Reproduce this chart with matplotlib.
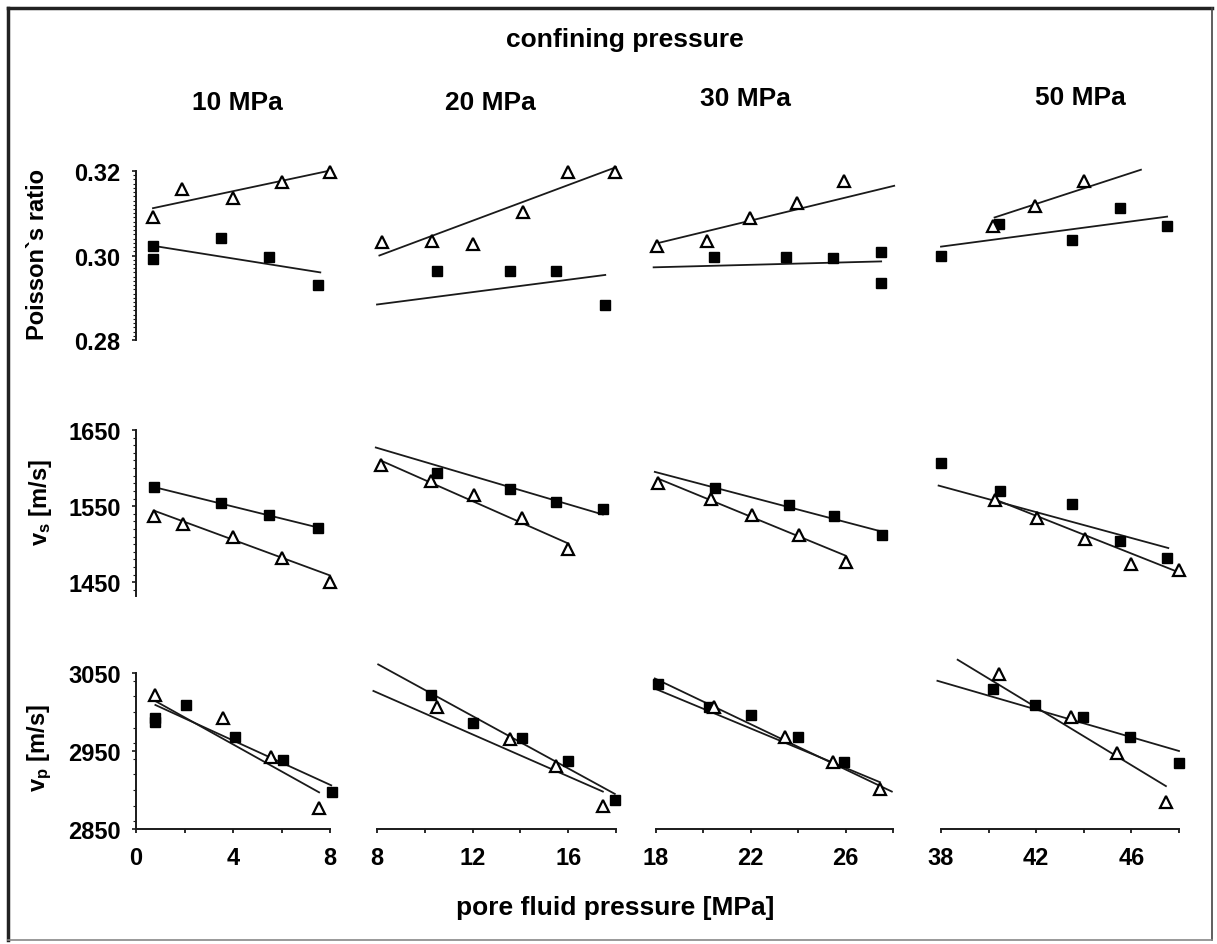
import matplotlib
matplotlib.use('Agg')
import matplotlib.pyplot as plt
from matplotlib.lines import Line2D
from matplotlib.ticker import MultipleLocator

plt.rcParams['font.family'] = ['Liberation Sans', 'DejaVu Sans']
plt.rcParams['font.weight'] = 'bold'

W, H = 1217, 945

# ---- data ----
col_titles = ['10 MPa', '20 MPa', '30 MPa', '50 MPa']
xlims = [(0, 8), (8, 18), (18, 28), (38, 48)]
xticks_major = [[0, 4, 8], [8, 12, 16], [18, 22, 26], [38, 42, 46]]

row_labels = ['Poisson`s ratio', r'$\mathregular{v_s}$ [m/s]', r'$\mathregular{v_p}$ [m/s]']
ylims = [(0.28, 0.32), (1432, 1650), (2850, 3050)]
yticks_major = [[0.28, 0.30, 0.32], [1450, 1550, 1650], [2850, 2950, 3050]]
ytick_fmt = ['{:.2f}', '{:.0f}', '{:.0f}']
yminor = [0.001, 10, 20]

# Poisson's ratio
pr_sq_x = [[0.7, 0.7, 3.5, 5.5, 7.5], [10.5, 13.55, 15.5, 17.55],
           [20.45, 23.5, 25.45, 27.5, 27.5], [38.0, 40.45, 43.5, 45.5, 47.5]]
pr_sq_y = [[0.3023, 0.2992, 0.3041, 0.2997, 0.2931], [0.2964, 0.2964, 0.2964, 0.2882],
           [0.2996, 0.2996, 0.2993, 0.3008, 0.2935], [0.2998, 0.3074, 0.3037, 0.3112, 0.3071]]
pr_tri_x = [[0.7, 1.9, 4.0, 6.0, 8.0], [8.2, 10.3, 12.0, 14.1, 16.0, 17.95],
            [18.05, 20.15, 21.95, 23.95, 25.95], [40.2, 41.95, 44.0]]
pr_tri_y = [[0.309, 0.3157, 0.3135, 0.3175, 0.3198], [0.3031, 0.3034, 0.3027, 0.3102, 0.3197, 0.3197],
            [0.3023, 0.3034, 0.3088, 0.3124, 0.3177], [0.3071, 0.3117, 0.3177]]
pr_sq_fit = [[(0.7, 7.6), (0.3023, 0.2960)], [(8.0, 17.55), (0.2884, 0.2954)],
             [(17.9, 27.5), (0.2972, 0.2986)], [(38.0, 47.5), (0.3021, 0.3092)]]
pr_tri_fit = [[(0.7, 8.0), (0.3112, 0.3201)], [(8.1, 18.0), (0.300, 0.3209)],
              [(18.05, 28.05), (0.3029, 0.3165)], [(40.25, 46.4), (0.309, 0.3203)]]

# S-wave velocity
vs_sq_x = [[0.75, 3.5, 5.5, 7.5], [10.5, 13.55, 15.5, 17.45],
           [20.5, 23.6, 25.5, 27.55], [38.0, 40.5, 43.5, 45.5, 47.5]]
vs_sq_y = [[1575, 1554, 1539, 1521], [1594, 1572, 1555, 1546],
           [1574, 1552, 1537, 1512], [1607, 1570, 1553, 1504, 1482]]
vs_tri_x = [[0.75, 1.95, 4.0, 6.0, 8.0], [8.15, 10.25, 12.05, 14.05, 16.0],
            [18.1, 20.3, 22.05, 24.05, 26.0], [40.25, 42.05, 44.05, 46.0, 48.0]]
vs_tri_y = [[1537, 1526, 1509, 1482, 1450], [1604, 1583, 1565, 1535, 1494],
            [1580, 1560, 1539, 1512, 1476], [1558, 1534, 1507, 1474, 1466]]
vs_sq_fit = [[(0.75, 7.5), (1575, 1522)], [(7.95, 17.45), (1627, 1539)],
             [(17.95, 27.6), (1595, 1516)], [(37.9, 47.55), (1577, 1495)]]
vs_tri_fit = [[(0.75, 8.0), (1544, 1459)], [(8.15, 16.0), (1610, 1501)],
              [(18.1, 26.0), (1586, 1485)], [(40.25, 48.0), (1559, 1463)]]

# P-wave velocity
vp_sq_x = [[0.8, 0.8, 2.05, 4.1, 6.05, 8.1], [10.25, 12.0, 14.05, 16.0, 17.95],
           [18.1, 20.25, 22.0, 24.0, 25.95], [40.2, 41.95, 43.95, 45.95, 48.0]]
vp_sq_y = [[2992, 2987, 3009, 2968, 2938, 2897], [3022, 2986, 2967, 2937, 2887],
           [3036, 3007, 2996, 2968, 2936], [3030, 3009, 2993, 2968, 2934]]
vp_tri_x = [[0.8, 3.6, 5.55, 7.55], [10.5, 13.55, 15.5, 17.45],
            [20.45, 23.45, 25.45, 27.45], [40.45, 43.45, 45.4, 47.45]]
vp_tri_y = [[3022, 2992, 2942, 2877], [3006, 2965, 2931, 2880],
            [3006, 2968, 2936, 2901], [3049, 2994, 2947, 2884]]
vp_sq_fit = [[(0.8, 8.05), (3009, 2906)], [(8.05, 17.95), (3061, 2895)],
             [(17.95, 27.95), (3043, 2898)], [(37.85, 48.0), (3040, 2950)]]
vp_tri_fit = [[(0.8, 7.55), (3014, 2897)], [(7.85, 17.45), (3027, 2898)],
              [(17.95, 27.45), (3030, 2910)], [(38.7, 47.45), (3067, 2905)]]

rows = [
    (pr_sq_x, pr_sq_y, pr_tri_x, pr_tri_y, pr_sq_fit, pr_tri_fit),
    (vs_sq_x, vs_sq_y, vs_tri_x, vs_tri_y, vs_sq_fit, vs_tri_fit),
    (vp_sq_x, vp_sq_y, vp_tri_x, vp_tri_y, vp_sq_fit, vp_tri_fit),
]

# ---- layout in pixels ----
col_px = [(136, 330), (377, 616), (656, 893), (941, 1179)]
row_px = [(172, 341), (431, 597), (674, 830)]
title_px = [(237, 103), (490, 103), (745, 99), (1080, 98)]
ylabel_px = [(38, 255), (41, 503), (40, 748)]

fig = plt.figure(figsize=(W / 100, H / 100), dpi=100)
ink = '#1a1a1a'

for r, (sqx, sqy, trx, tryy, sqf, trf) in enumerate(rows):
    top, bot = row_px[r]
    for c in range(4):
        l, rr = col_px[c]
        ax = fig.add_axes([l / W, 1 - bot / H, (rr - l) / W, (bot - top) / H])
        ax.set_xlim(*xlims[c])
        ax.set_ylim(*ylims[r])
        ax.patch.set_alpha(0)
        for s in ['top', 'right']:
            ax.spines[s].set_visible(False)
        ax.spines['left'].set_visible(c == 0)
        ax.spines['bottom'].set_visible(r == 2)
        for s in ['left', 'bottom']:
            ax.spines[s].set_linewidth(1.4)
            ax.spines[s].set_color(ink)

        ax.plot(sqf[c][0], sqf[c][1], color=ink, lw=1.3, clip_on=False)
        ax.plot(trf[c][0], trf[c][1], color=ink, lw=1.3, clip_on=False)
        ax.plot(sqx[c], sqy[c], ls='none', marker='s', ms=7.5, color='black',
                clip_on=False, zorder=3)
        ax.plot(trx[c], tryy[c], ls='none', marker='^', ms=9, mfc='white',
                mec='black', mew=1.6, clip_on=False, zorder=4)

        if r == 2:
            ax.set_xticks(xticks_major[c])
            ax.set_xticklabels([str(v) for v in xticks_major[c]], fontsize=17,
                               fontweight='bold')
            ax.xaxis.set_minor_locator(MultipleLocator(2))
            ax.tick_params(axis='x', which='both', direction='out', length=3,
                           width=1.3, color=ink, pad=9)
        else:
            ax.set_xticks([])
        if c == 0:
            ax.set_yticks(yticks_major[r])
            ax.set_yticklabels([ytick_fmt[r].format(v) for v in yticks_major[r]],
                               fontsize=17, fontweight='bold')
            ax.yaxis.set_minor_locator(MultipleLocator(yminor[r]))
            ax.tick_params(axis='y', which='major', direction='out', length=3,
                           width=1.2, color=ink, pad=8)
            ax.tick_params(axis='y', which='minor', direction='out', length=2,
                           width=0.8, color=ink)
        else:
            ax.set_yticks([])
            ax.yaxis.set_minor_locator(plt.NullLocator())

for c, t in enumerate(col_titles):
    x, y = title_px[c]
    fig.text(x / W, 1 - y / H, t, ha='center', va='center', fontsize=19,
             fontweight='bold')

for r, t in enumerate(row_labels):
    x, y = ylabel_px[r]
    fig.text(x / W, 1 - y / H, t, ha='center', va='center', rotation=90,
             fontsize=17, fontweight='bold')

fig.text(625 / W, 1 - 40 / H, 'confining pressure', ha='center', va='center',
         fontsize=19, fontweight='bold')
fig.text(615 / W, 1 - 908 / H, 'pore fluid pressure [MPa]', ha='center',
         va='center', fontsize=19, fontweight='bold')

# outer frame
fig.add_artist(Line2D([8 / W, 8 / W], [1 - 9 / H, 1 - 941 / H], color='#222',
                      lw=2.5, transform=fig.transFigure))
fig.add_artist(Line2D([8 / W, 1212 / W], [1 - 9 / H, 1 - 9 / H], color='#222',
                      lw=2.5, transform=fig.transFigure))
fig.add_artist(Line2D([1212 / W, 1212 / W], [1 - 9 / H, 1 - 941 / H], color='#444',
                      lw=1.2, transform=fig.transFigure))
fig.add_artist(Line2D([8 / W, 1212 / W], [1 - 941 / H, 1 - 941 / H], color='#888',
                      lw=1.2, transform=fig.transFigure))

fig.savefig('out.png', dpi=100)
